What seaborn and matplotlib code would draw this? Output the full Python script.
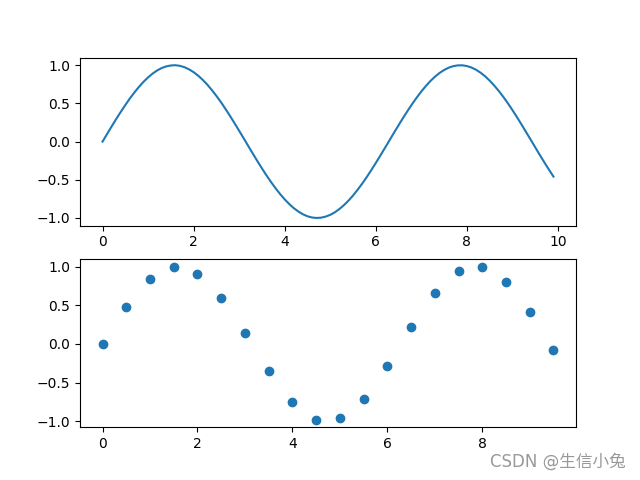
import matplotlib
matplotlib.use("Agg")
import matplotlib.pyplot as plt
import seaborn as sns
import pandas as pd

line_x = [0.0, 0.1, 0.2, 0.3, 0.4, 0.5, 0.6, 0.7, 0.8, 0.9,
          1.0, 1.1, 1.2, 1.3, 1.4, 1.5, 1.6, 1.7, 1.8, 1.9,
          2.0, 2.1, 2.2, 2.3, 2.4, 2.5, 2.6, 2.7, 2.8, 2.9,
          3.0, 3.1, 3.2, 3.3, 3.4, 3.5, 3.6, 3.7, 3.8, 3.9,
          4.0, 4.1, 4.2, 4.3, 4.4, 4.5, 4.6, 4.7, 4.8, 4.9,
          5.0, 5.1, 5.2, 5.3, 5.4, 5.5, 5.6, 5.7, 5.8, 5.9,
          6.0, 6.1, 6.2, 6.3, 6.4, 6.5, 6.6, 6.7, 6.8, 6.9,
          7.0, 7.1, 7.2, 7.3, 7.4, 7.5, 7.6, 7.7, 7.8, 7.9,
          8.0, 8.1, 8.2, 8.3, 8.4, 8.5, 8.6, 8.7, 8.8, 8.9,
          9.0, 9.1, 9.2, 9.3, 9.4, 9.5, 9.6, 9.7, 9.8, 9.9]
line_y = [0.000, 0.100, 0.199, 0.296, 0.389, 0.479, 0.565, 0.644, 0.717, 0.783,
          0.841, 0.891, 0.932, 0.964, 0.985, 0.997, 1.000, 0.992, 0.974, 0.946,
          0.909, 0.863, 0.808, 0.746, 0.675, 0.598, 0.516, 0.427, 0.335, 0.239,
          0.141, 0.042, -0.058, -0.158, -0.256, -0.351, -0.443, -0.530, -0.612, -0.688,
          -0.757, -0.818, -0.872, -0.916, -0.952, -0.978, -0.994, -1.000, -0.996, -0.982,
          -0.959, -0.926, -0.883, -0.832, -0.773, -0.706, -0.631, -0.551, -0.465, -0.374,
          -0.279, -0.182, -0.083, 0.017, 0.117, 0.215, 0.312, 0.405, 0.494, 0.578,
          0.657, 0.729, 0.794, 0.851, 0.899, 0.938, 0.968, 0.988, 0.998, 0.999,
          0.989, 0.970, 0.941, 0.902, 0.855, 0.798, 0.734, 0.663, 0.585, 0.501,
          0.412, 0.319, 0.223, 0.124, 0.025, -0.075, -0.175, -0.272, -0.366, -0.458]

scatter_x = [0.0, 0.5, 1.0, 1.5, 2.0, 2.5, 3.0, 3.5, 4.0, 4.5,
             5.0, 5.5, 6.0, 6.5, 7.0, 7.5, 8.0, 8.5, 9.0, 9.5]
scatter_y = [0.000, 0.479, 0.841, 0.997, 0.909, 0.598, 0.141, -0.351, -0.757, -0.978,
             -0.959, -0.706, -0.279, 0.215, 0.657, 0.938, 0.989, 0.798, 0.412, -0.075]

line_df = pd.DataFrame({"x": line_x, "y": line_y})
scatter_df = pd.DataFrame({"x": scatter_x, "y": scatter_y})

fig, (ax1, ax2) = plt.subplots(2, 1, figsize=(6.4, 4.8), dpi=100)

sns.lineplot(data=line_df, x="x", y="y", ax=ax1, color="#1f77b4", linewidth=1.5)
sns.scatterplot(data=scatter_df, x="x", y="y", ax=ax2, color="#1f77b4",
                s=36, linewidth=1.0, edgecolor="#1f77b4")

for ax in (ax1, ax2):
    ax.set_xlabel("")
    ax.set_ylabel("")
    ax.set_yticks([-1.0, -0.5, 0.0, 0.5, 1.0])

ax1.set_xticks([0, 2, 4, 6, 8, 10])
ax2.set_xticks([0, 2, 4, 6, 8])

fig.text(0.977, 0.0375, "CSDN @生信小兔", ha="right", va="center",
         fontsize=12, color="#999999",
         family=["DejaVu Sans", "Noto Sans CJK SC"])

fig.savefig("out.png", dpi=100)
